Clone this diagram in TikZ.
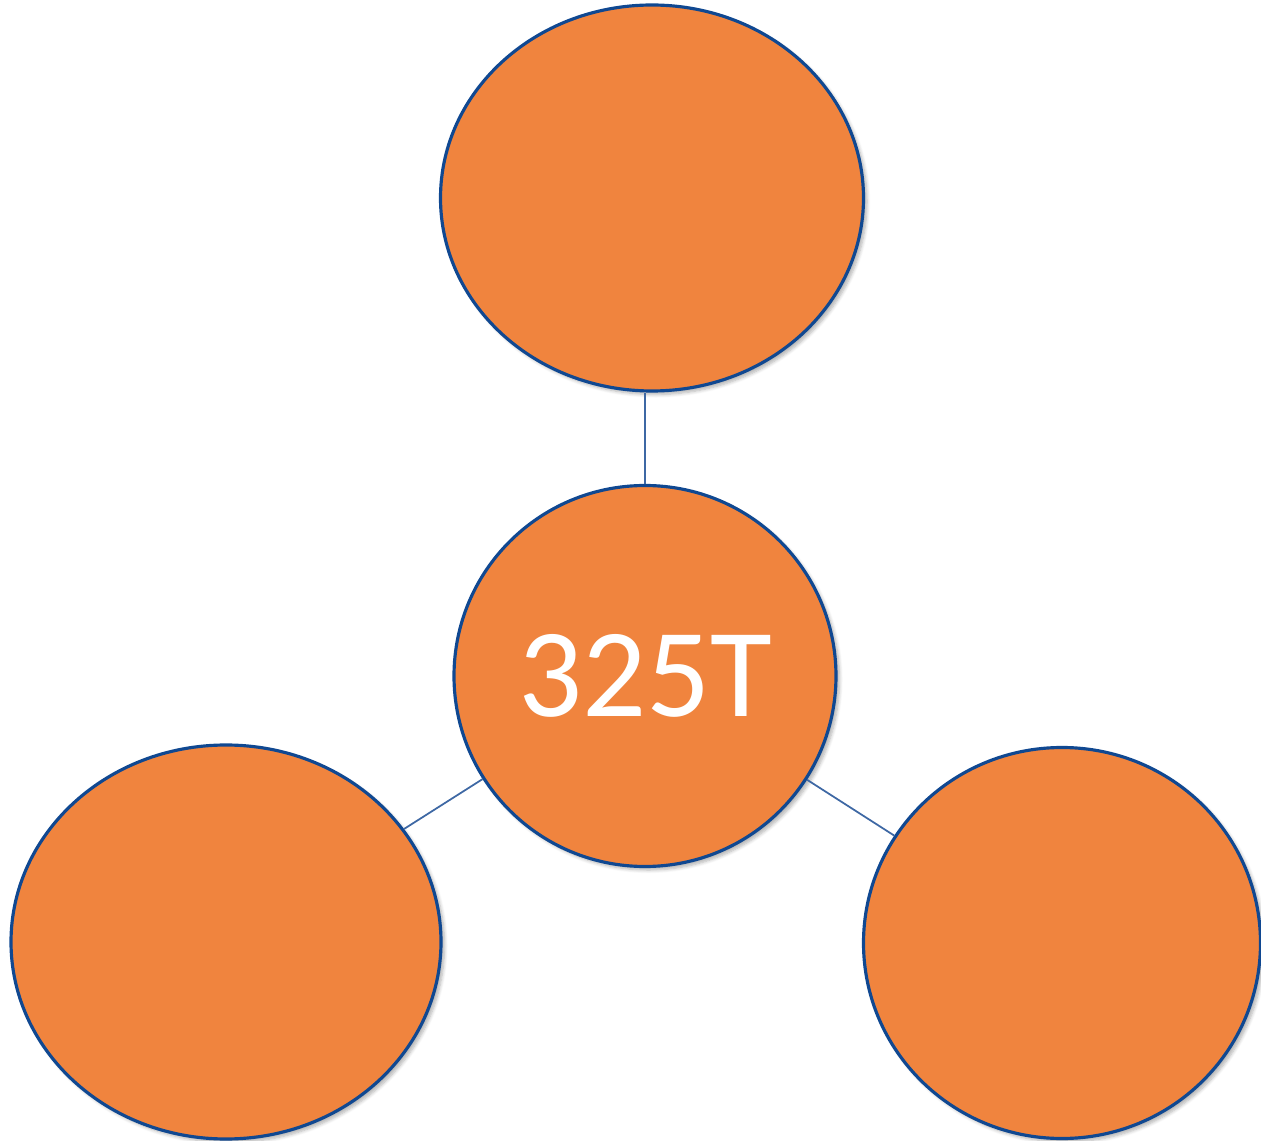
\documentclass[tikz,border=0pt]{standalone}
\usepackage{fontspec}
\setmainfont{Carlito}
\usetikzlibrary{shapes.geometric,shadows.blur}
\definecolor{bubblefill}{RGB}{240,132,62}
\definecolor{bubbleline}{RGB}{16,72,145}
\definecolor{linkline}{RGB}{62,104,164}
\begin{document}
\begin{tikzpicture}[x=0.02cm,y=-0.02cm,
  bubble/.style={ellipse, draw=bubbleline, line width=1.8pt, fill=bubblefill,
    inner sep=0pt,
    blur shadow={shadow xshift=2pt, shadow yshift=-2pt, shadow blur steps=6, shadow opacity=30}},
  link/.style={draw=linkline, line width=1pt}]
\useasboundingbox (0,0) rectangle (1261,1141);
% outer bubbles
\node[bubble, minimum width=423*0.02cm, minimum height=386*0.02cm] (top) at (652,198) {};
\node[bubble, minimum width=430*0.02cm, minimum height=394*0.02cm] (left) at (226,942) {};
\node[bubble, minimum width=397*0.02cm, minimum height=391*0.02cm] (right) at (1062,943) {};
% centre bubble
\node[bubble, minimum width=382*0.02cm, minimum height=381*0.02cm, text=white,
  font=\fontsize{72}{80}\selectfont] (hub) at (645,676) {325T};
% connectors
\draw[link] (hub.north) -- (hub.north |- top.south);
\draw[link] (hub) -- (left);
\draw[link] (hub) -- (right);
\end{tikzpicture}
\end{document}
